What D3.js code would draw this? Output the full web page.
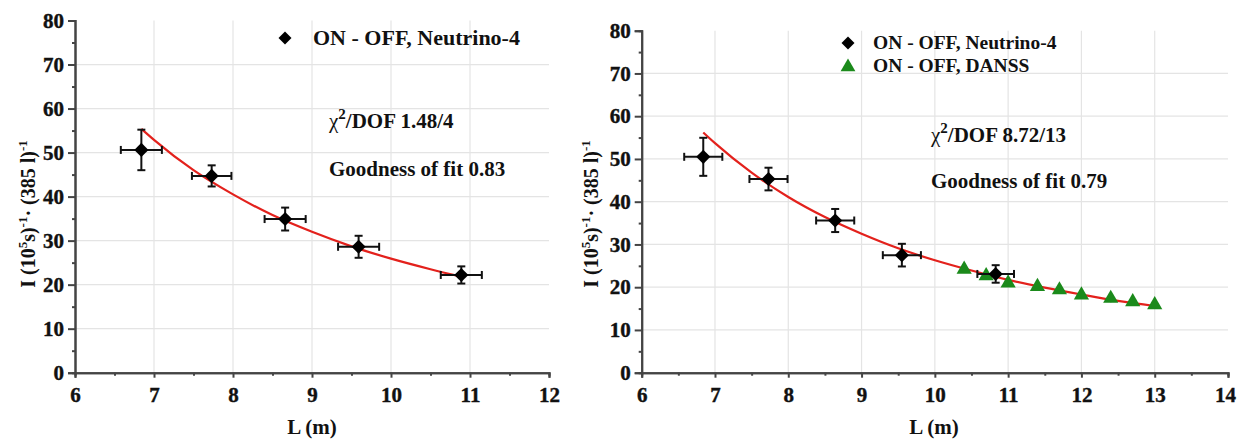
<!DOCTYPE html>
<html>
<head>
<meta charset="utf-8">
<script src="https://cdn.jsdelivr.net/npm/d3@7"></script>
<style>
  body { margin: 0; background: #fff; }
  svg text { font-family: "Liberation Serif", "Times New Roman", "DejaVu Serif", serif; font-weight: bold; fill: #111; }
</style>
</head>
<body>
<div id="chart"></div>
<script>
// ---- data ----
// left panel: Neutrino-4 only
var leftL    = [6.84, 7.73, 8.66, 9.59, 10.89];
var leftI    = [50.6, 44.7, 34.9, 28.6, 22.2];
var leftIerr = [4.6, 2.4, 2.6, 2.5, 1.95];
var leftLerr = [0.26, 0.25, 0.26, 0.26, 0.26];
var leftFitL = [6.84, 7.0, 7.5, 8.0, 8.5, 9.0, 9.5, 10.0, 10.5, 10.89];
var leftFitI = [55.4, 52.9, 46.0, 40.5, 35.8, 32.0, 28.7, 25.9, 23.5, 21.8];

// right panel: Neutrino-4 + DANSS
var rightL    = [6.84, 7.73, 8.64, 9.55, 10.83];
var rightI    = [50.5, 45.3, 35.6, 27.5, 23.1];
var rightIerr = [4.45, 2.65, 2.7, 2.65, 2.05];
var rightLerr = [0.26, 0.26, 0.26, 0.26, 0.25];
var danssL    = [10.4, 10.7, 11.0, 11.4, 11.7, 12.0, 12.4, 12.7, 13.0];
var danssI    = [24.4, 22.9, 21.2, 20.4, 19.6, 18.4, 17.6, 16.8, 16.1];
var danssErr  = [1.1, 1.1, 1.1, 1.1, 1.1, 1.1, 1.1, 1.1, 1.1];
var rightFitL = [6.84, 7.0, 7.5, 8.0, 8.5, 9.0, 9.5, 10.0, 10.5, 11.0, 11.5, 12.0, 12.5, 13.0];
var rightFitI = [56.2, 53.7, 46.8, 41.1, 36.4, 32.5, 29.1, 26.3, 23.9, 21.7, 19.9, 18.3, 16.8, 15.6];

var yTicks = [0, 10, 20, 30, 40, 50, 60, 70, 80];
var leftXTicks  = [6, 7, 8, 9, 10, 11, 12];
var rightXTicks = [6, 7, 8, 9, 10, 11, 12, 13, 14];

var serif = "Liberation Serif, Times New Roman, DejaVu Serif, serif";

var svg = d3.select("#chart").append("svg")
    .attr("width", 1237)
    .attr("height", 439);

var red = "#e3211c", green = "#1b8a1b";

function zip(a, b, ea, eb) {
  return a.map(function(v, i) { return {x: v, y: b[i], ey: ea ? ea[i] : 0, ex: eb ? eb[i] : 0}; });
}

function drawPanel(p) {
  var x = d3.scaleLinear().domain(p.xDomain).range(p.xRange);
  var y = d3.scaleLinear().domain([0, 80]).range(p.yRange);
  var g = svg.append("g");

  // grid
  g.selectAll(".hgrid").data(yTicks.filter(function(t) { return t > 0 && t < 80; }))
    .enter().append("line")
    .attr("x1", x(p.xDomain[0])).attr("x2", x(p.xDomain[1]))
    .attr("y1", d => y(d)).attr("y2", d => y(d))
    .attr("stroke", "#e4e4e4").attr("stroke-width", 1.2);
  g.selectAll(".vgrid").data(p.xTicks.slice(1, -1))
    .enter().append("line")
    .attr("x1", d => x(d)).attr("x2", d => x(d))
    .attr("y1", y(0)).attr("y2", y(80))
    .attr("stroke", "#e4e4e4").attr("stroke-width", 1.2);

  // axes
  var fmt = d3.format("d");
  var yAxis = d3.axisLeft(y).tickValues(yTicks).tickFormat(fmt).tickSize(7).tickPadding(4);
  var yMinor = d3.axisLeft(y).tickValues(d3.range(5, 80, 10)).tickSize(3).tickFormat("");
  var xAxis = d3.axisBottom(x).tickValues(p.xTicks).tickFormat(fmt).tickSize(5).tickPadding(9);
  var xMinor = d3.axisBottom(x).tickValues(p.xTicks.slice(0, -1).map(t => t + 0.5)).tickSize(3).tickFormat("");

  [yAxis, yMinor].forEach(function(ax) {
    g.append("g").attr("transform", "translate(" + x(p.xDomain[0]) + ",0)").call(ax)
      .attr("font-family", serif).attr("font-weight", "bold").attr("font-size", p.tickSize);
  });
  [xAxis, xMinor].forEach(function(ax) {
    g.append("g").attr("transform", "translate(0," + y(0) + ")").call(ax)
      .attr("font-family", serif).attr("font-weight", "bold").attr("font-size", p.tickSize);
  });
  g.selectAll(".domain").attr("stroke", "#444").attr("stroke-width", 2);
  g.selectAll(".tick line").attr("stroke", "#444").attr("stroke-width", 2);
  g.selectAll(".tick text").attr("fill", "#111")
    .attr("stroke", "#111").attr("stroke-width", 0.4);
  // keep the last x label inside the frame
  g.selectAll(".tick text").filter(d => d === 14).attr("dx", -3);

  // fit curve
  var line = d3.line().x(d => x(d.x)).y(d => y(d.y)).curve(d3.curveMonotoneX);
  g.append("path").datum(zip(p.fitL, p.fitI))
    .attr("d", line).attr("fill", "none")
    .attr("stroke", red).attr("stroke-width", 2.2);

  // DANSS points
  if (p.danss) {
    var dg = g.append("g");
    var dd = zip(danssL, danssI, danssErr);
    dg.selectAll(".de").data(dd).enter().append("line")
      .attr("x1", d => x(d.x)).attr("x2", d => x(d.x))
      .attr("y1", d => y(d.y - d.ey)).attr("y2", d => y(d.y + d.ey))
      .attr("stroke", "#1d3a1d").attr("stroke-width", 1.6);
    dg.selectAll(".dm").data(dd).enter().append("path")
      .attr("d", d3.symbol().type(d3.symbolTriangle).size(100))
      .attr("transform", d => "translate(" + x(d.x) + "," + (y(d.y) + 1) + ")")
      .attr("fill", green);
  }

  // Neutrino-4 points with error bars
  var nd = zip(p.L, p.I, p.Ierr, p.Lerr);
  var pg = g.selectAll(".pt").data(nd).enter().append("g");
  pg.append("line")
    .attr("x1", d => x(d.x)).attr("x2", d => x(d.x))
    .attr("y1", d => y(d.y - d.ey)).attr("y2", d => y(d.y + d.ey))
    .attr("stroke", "#111").attr("stroke-width", 2);
  pg.append("line")
    .attr("x1", d => x(d.x - d.ex)).attr("x2", d => x(d.x + d.ex))
    .attr("y1", d => y(d.y)).attr("y2", d => y(d.y))
    .attr("stroke", "#111").attr("stroke-width", 2);
  [-1, 1].forEach(function(s) {
    pg.append("line")
      .attr("x1", d => x(d.x) - 4).attr("x2", d => x(d.x) + 4)
      .attr("y1", d => y(d.y + s * d.ey)).attr("y2", d => y(d.y + s * d.ey))
      .attr("stroke", "#111").attr("stroke-width", 2);
    pg.append("line")
      .attr("x1", d => x(d.x + s * d.ex)).attr("x2", d => x(d.x + s * d.ex))
      .attr("y1", d => y(d.y) - 4).attr("y2", d => y(d.y) + 4)
      .attr("stroke", "#111").attr("stroke-width", 2);
  });
  pg.append("path")
    .attr("d", d3.symbol().type(d3.symbolSquare).size(100))
    .attr("transform", d => "translate(" + x(d.x) + "," + y(d.y) + ") rotate(45)")
    .attr("fill", "#000");

  // legend
  p.legend.forEach(function(it) {
    if (it.shape === "diamond") {
      g.append("path").attr("d", d3.symbol().type(d3.symbolSquare).size(85))
        .attr("transform", "translate(" + it.mx + "," + it.my + ") rotate(45)")
        .attr("fill", "#000");
    } else {
      g.append("path").attr("d", d3.symbol().type(d3.symbolTriangle).size(95))
        .attr("transform", "translate(" + it.mx + "," + (it.my + 1) + ")")
        .attr("fill", green);
    }
    g.append("text").attr("x", it.tx).attr("y", it.ty)
      .style("font-size", p.legendSize + "px").text(it.label);
  });

  // fit stats
  var chi = g.append("text").attr("x", p.statX).attr("y", p.chiY).style("font-size", "21px");
  chi.append("tspan").style("font-weight", "normal").text("\u03C7");
  chi.append("tspan").style("font-size", "15px").attr("dy", -9).text("2");
  chi.append("tspan").attr("dy", 9).text("/DOF " + p.chi);
  g.append("text").attr("x", p.statX).attr("y", p.gofY).style("font-size", "21px")
    .text("Goodness of fit " + p.gof);

  // axis titles
  g.append("text").attr("x", p.xLabelX).attr("y", 434)
    .attr("text-anchor", "middle").style("font-size", "21px").text("L (m)");

  var yl = g.append("text")
    .attr("transform", "translate(" + p.yLabelX + ",214) rotate(-90)")
    .attr("text-anchor", "middle").style("font-size", "20px");
  yl.append("tspan").text("I (10");
  yl.append("tspan").style("font-size", "13px").attr("dy", -8).text("5");
  yl.append("tspan").attr("dy", 8).text("s)");
  yl.append("tspan").style("font-size", "13px").attr("dy", -8).text("-1");
  yl.append("tspan").attr("dy", 8).text("\u00B7 (385 l)");
  yl.append("tspan").style("font-size", "13px").attr("dy", -8).text("-1");
}

drawPanel({
  xDomain: [6, 12], xRange: [75, 549], yRange: [372.7, 20.5], xTicks: leftXTicks,
  L: leftL, I: leftI, Ierr: leftIerr, Lerr: leftLerr, fitL: leftFitL, fitI: leftFitI,
  danss: false, tickSize: 21, legendSize: 22,
  legend: [{shape: "diamond", mx: 285, my: 38, tx: 313, ty: 45, label: "ON - OFF, Neutrino-4"}],
  statX: 329, chiY: 128, gofY: 176, chi: "1.48/4", gof: "0.83",
  xLabelX: 312, yLabelX: 35
});

drawPanel({
  xDomain: [6, 14], xRange: [641.7, 1228], yRange: [372.7, 30.7], xTicks: rightXTicks,
  L: rightL, I: rightI, Ierr: rightIerr, Lerr: rightLerr, fitL: rightFitL, fitI: rightFitI,
  danss: true, tickSize: 21, legendSize: 19.5,
  legend: [
    {shape: "diamond", mx: 848, my: 43, tx: 873, ty: 49, label: "ON - OFF, Neutrino-4"},
    {shape: "triangle", mx: 848, my: 66, tx: 873, ty: 72, label: "ON - OFF, DANSS"}
  ],
  statX: 931, chiY: 142, gofY: 188, chi: "8.72/13", gof: "0.79",
  xLabelX: 934, yLabelX: 598
});
</script>
</body>
</html>
